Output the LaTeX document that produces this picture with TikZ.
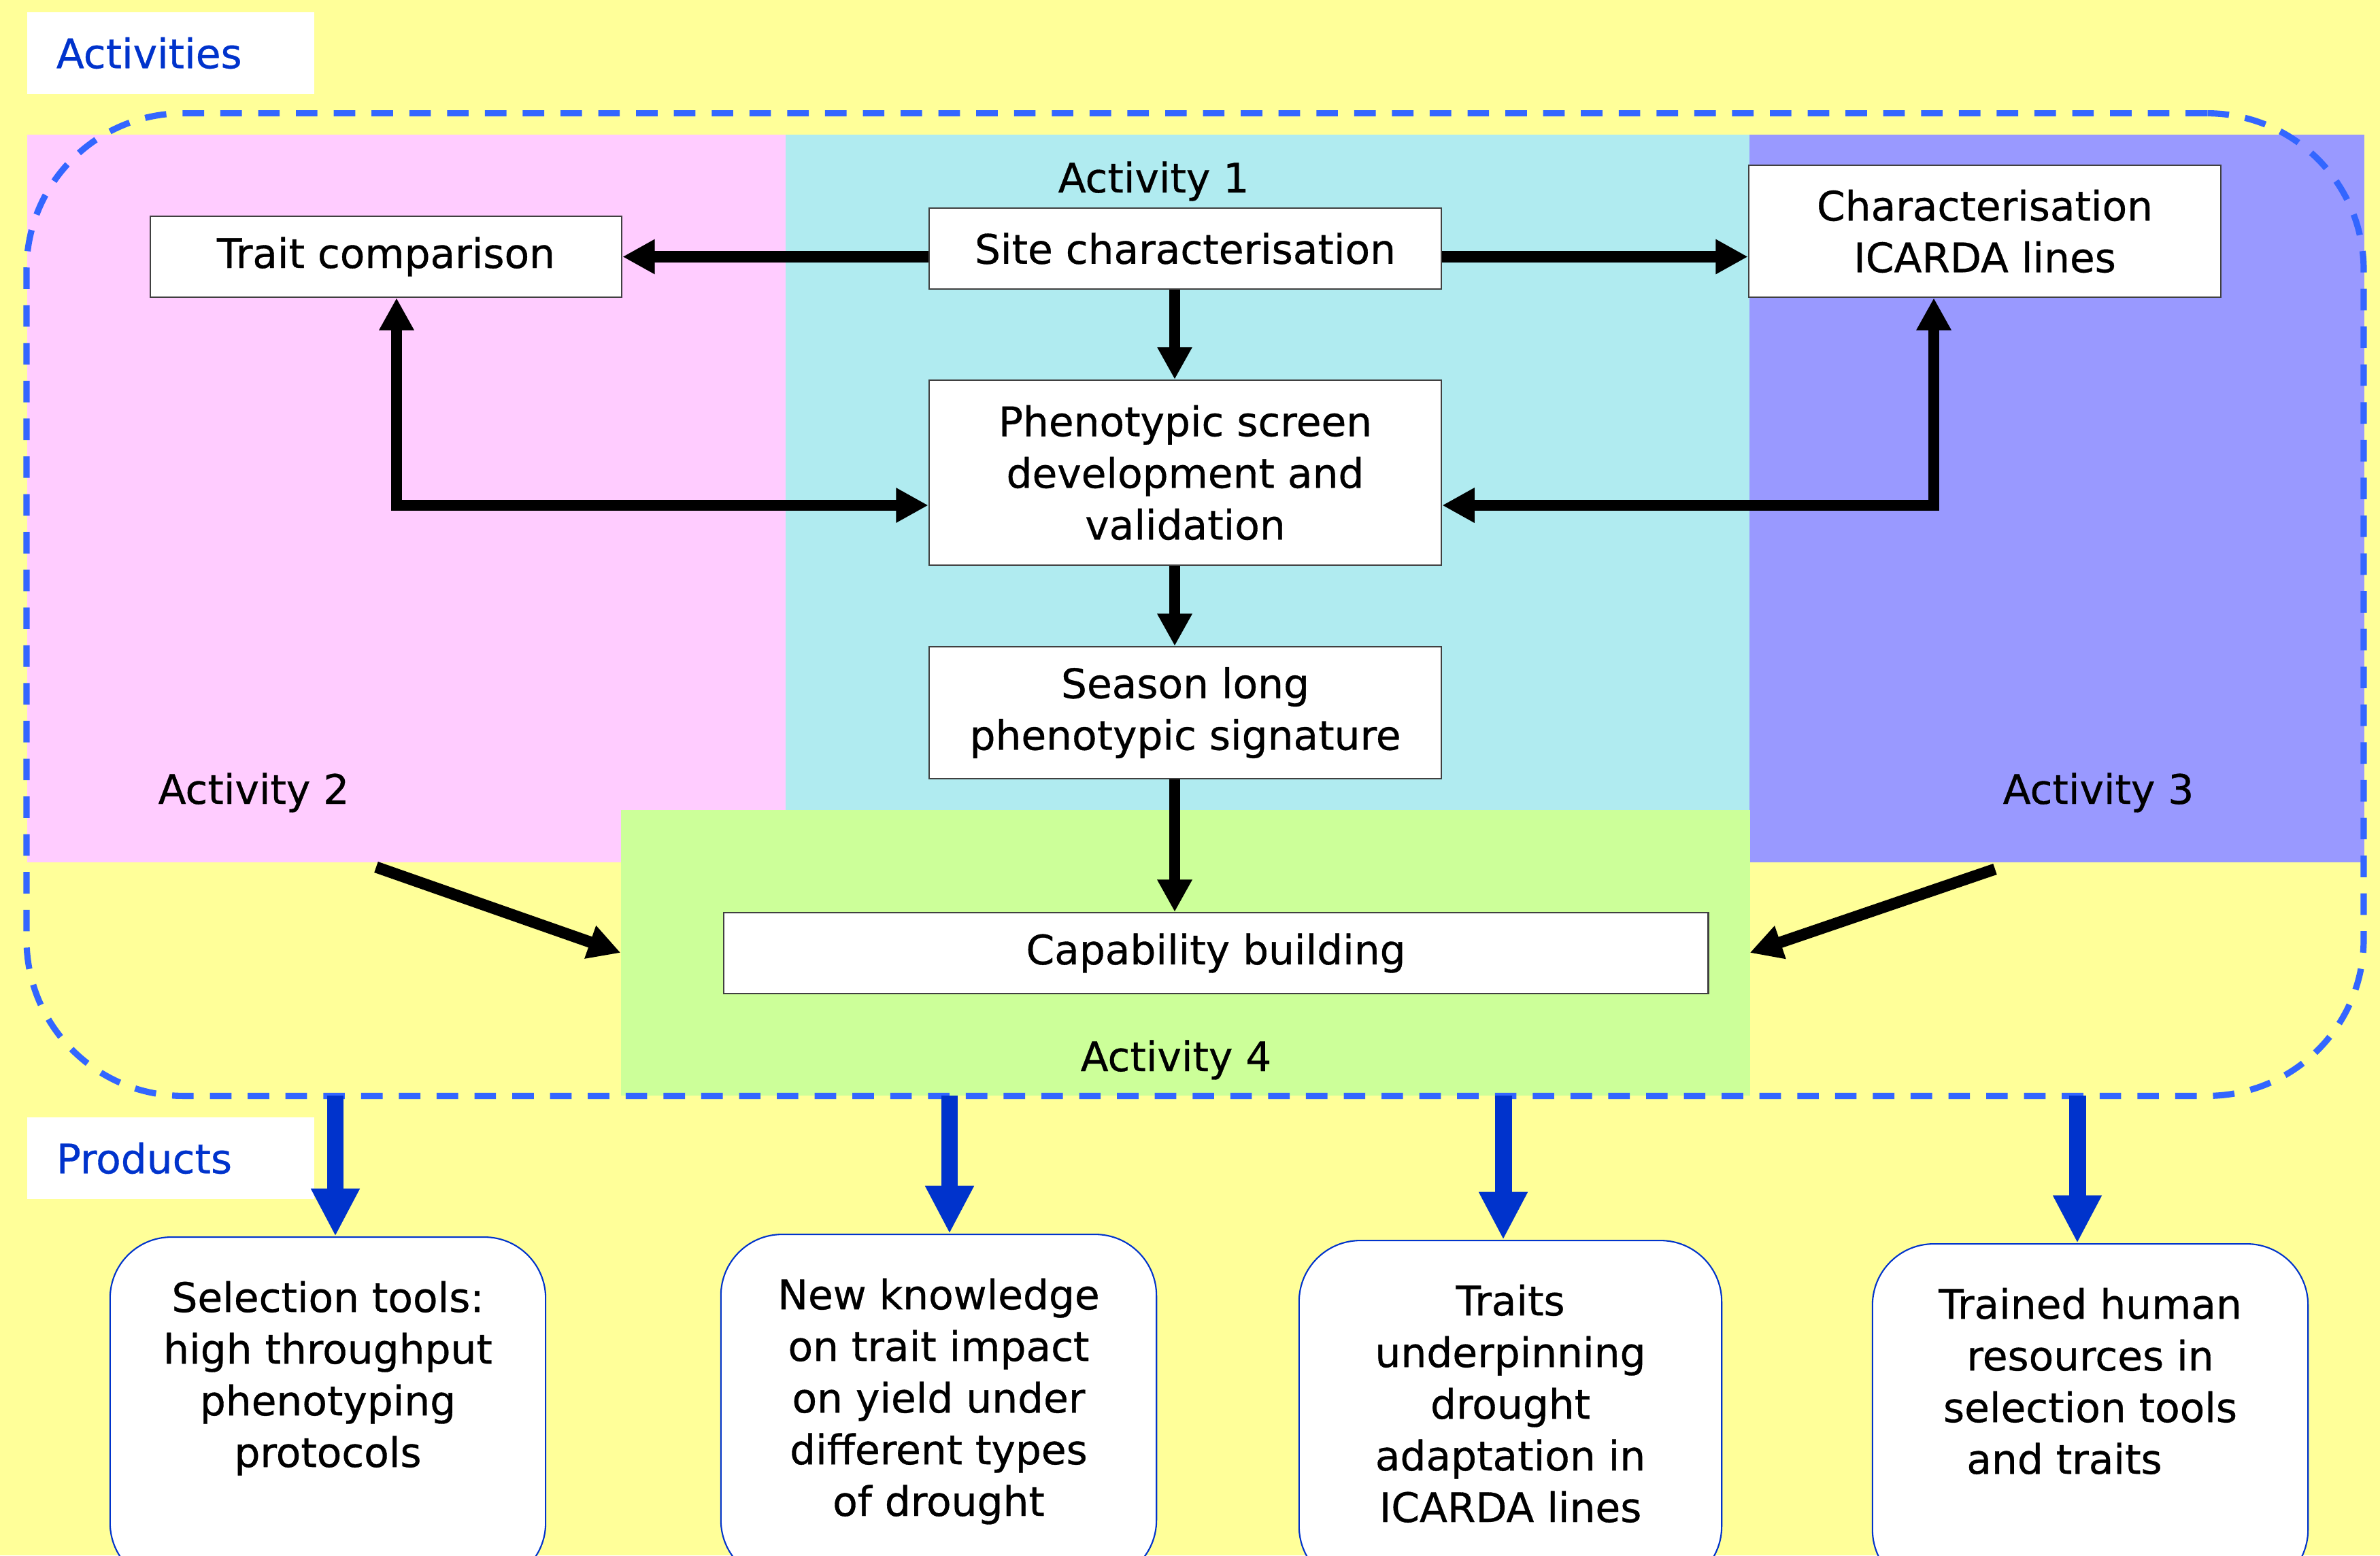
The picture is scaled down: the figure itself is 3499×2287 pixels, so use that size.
\documentclass[tikz,border=0pt]{standalone}
\usepackage{fontspec}
\setmainfont{DejaVu Sans}[FakeBold=0.6]
\usetikzlibrary{arrows.meta}

\definecolor{bgyellow}{HTML}{FFFF99}
\definecolor{pinkreg}{HTML}{FFCCFF}
\definecolor{cyanreg}{HTML}{B0EBF0}
\definecolor{purplereg}{HTML}{9999FF}
\definecolor{greenreg}{HTML}{CCFF99}
\definecolor{framecol}{HTML}{3366FF}
\definecolor{prodblue}{HTML}{0033CC}

\tikzset{
  region/.style={fill=#1, inner sep=0pt, outer sep=0pt},
  stagebox/.style={draw=black!75, line width=0.6pt, fill=white, align=center, inner sep=0pt},
  tagbox/.style={fill=white, text=prodblue, align=left, text width=3.36cm, inner xsep=0.43cm, minimum height=1.2cm},
  actframe/.style={draw=framecol, line width=2.6pt, dash pattern=on 9pt off 6.8pt, rounded corners=2.3cm, inner sep=0pt},
  prodbox/.style={draw=prodblue, line width=0.6pt, fill=white, rounded corners=0.9cm, anchor=north, minimum height=5.1cm},
  prodtext/.style={anchor=north, yshift=-0.65cm, inner sep=0pt, align=center},
  flowarrow/.style={line width=4.8pt, ->},
  prodarrow/.style={draw=prodblue, line width=7.1pt, -{Triangle[length=20pt, width=19pt]}}
}

\begin{document}
\begin{tikzpicture}[x=0.01cm, y=-0.01cm, >={Triangle[length=13.5pt, width=13.7pt]},
  every node/.style={font=\fontsize{17}{21.6}\selectfont}]
  \useasboundingbox (0,0) rectangle (3499,2287);
  \clip (0,0) rectangle (3499,2287);
  \fill[bgyellow] (0,0) rectangle (3499,2287);

  % activity areas
  \node[region=pinkreg, minimum width=11.15cm, minimum height=10.7cm] (act2) at (597.5,733) {};
  \node[region=cyanreg, minimum width=14.17cm, minimum height=9.93cm] (act1) at (1863.5,694.5) {};
  \node[region=purplereg, minimum width=9.04cm, minimum height=10.7cm] (act3) at (3024,733) {};
  \node[region=greenreg, minimum width=16.59cm, minimum height=4.2cm] (act4) at (1742.5,1401) {};

  \node[anchor=base] (lab1) at (1696,283) {Activity 1};
  \node[anchor=base] (lab2) at (373,1182) {Activity 2};
  \node[anchor=base] (lab3) at (3085,1182) {Activity 3};
  \node[anchor=base] (lab4) at (1729,1575) {Activity 4};

  % steps
  \node[stagebox, minimum width=6.93cm, minimum height=1.19cm] (trait) at (567.5,377.5) {Trait comparison};
  \node[stagebox, minimum width=7.53cm, minimum height=1.19cm] (site) at (1742.5,365.5) {Site characterisation};
  \node[stagebox, minimum width=7.53cm, minimum height=2.72cm] (pheno) at (1742.5,695) {Phenotypic screen\\development and\\validation};
  \node[stagebox, minimum width=7.53cm, minimum height=1.94cm] (season) at (1742.5,1048) {Season long\\phenotypic signature};
  \node[stagebox, minimum width=6.94cm, minimum height=1.94cm] (icarda) at (2918,340) {Characterisation\\ICARDA lines};
  \node[stagebox, minimum width=14.47cm, minimum height=1.19cm] (cap) at (1787.5,1401.5) {Capability building};

  \coordinate (spine) at (1727,0);
  \coordinate (lrail) at (583,743);
  \coordinate (rrail) at (2843,743);
  \coordinate (a2src) at (553,1275);
  \coordinate (a3src) at (2933,1278);

  \draw[flowarrow] (site.west |- trait.east) -- (trait.east);
  \draw[flowarrow] (site.east |- trait.east) -- (icarda.west |- trait.east);
  \draw[flowarrow] (spine |- site.south) -- (spine |- pheno.north);
  \draw[flowarrow] (spine |- pheno.south) -- (spine |- season.north);
  \draw[flowarrow] (spine |- season.south) -- (spine |- cap.north);
  \draw[flowarrow, <->] (trait.south -| lrail) -- (lrail) -- (pheno.west |- lrail);
  \draw[flowarrow, <->] (icarda.south -| rrail) -- (rrail) -- (pheno.east |- rrail);
  \draw[flowarrow] (a2src) -- (act4.west);
  \draw[flowarrow] (a3src) -- (act4.east);

  \node[actframe, minimum width=34.34cm, minimum height=14.44cm] (frame) at (1757,889) {};

  \node[tagbox] (acttag) at (251,78) {Activities};
  \node[tagbox] (prodtag) at (251,1703) {Products};

  % products
  \node[prodbox, minimum width=6.4cm, label={[prodtext]north:{Selection tools:\\high throughput\\phenotyping\\protocols}}] (prod1) at (482,1818) {};
  \node[prodbox, minimum width=6.4cm, label={[prodtext]north:{New knowledge\\on trait impact\\on yield under\\different types\\of drought}}] (prod2) at (1380,1814) {};
  \node[prodbox, minimum width=6.21cm, label={[prodtext]north:{Traits\\underpinning\\drought\\adaptation in\\ICARDA lines}}] (prod3) at (2220.5,1823) {};
  \node[prodbox, minimum width=6.4cm, label={[prodtext]north:{Trained human\\resources in\\selection tools\\and traits\hspace*{0.76cm}}}] (prod4) at (3073,1828) {};

  \foreach \i/\x in {1/493, 2/1396, 3/2210, 4/3054}{
    \coordinate (p\i) at (\x,1611);
    \draw[prodarrow] (p\i) -- (p\i |- prod\i.north);
  }
\end{tikzpicture}
\end{document}
